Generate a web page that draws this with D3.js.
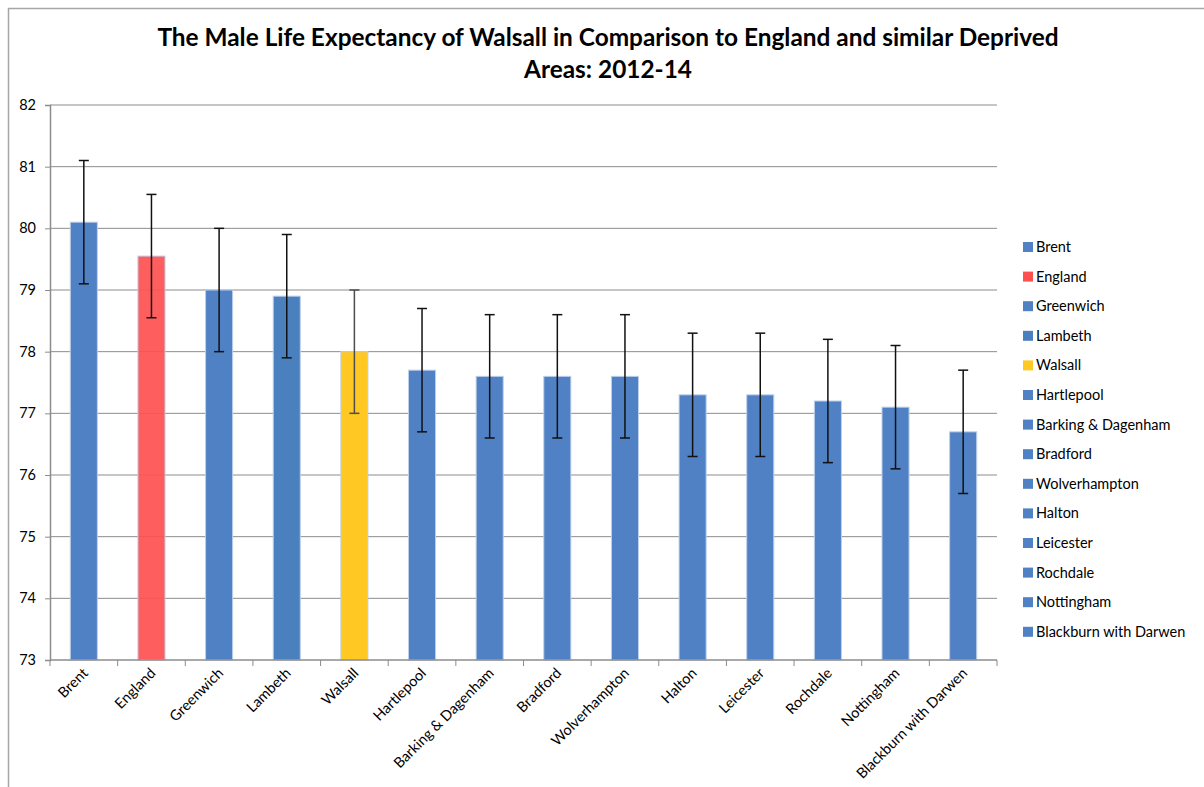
<!DOCTYPE html>
<html>
<head>
<meta charset="utf-8">
<script src="https://cdn.jsdelivr.net/npm/d3@7"></script>
<style>
  body { margin: 0; background: #fff; }
  text { font-family: Lato, "Open Sans", sans-serif; fill: #000; }
</style>
</head>
<body>
<div id="chart"></div>
<script>
var areas = ['Brent', 'England', 'Greenwich', 'Lambeth', 'Walsall', 'Hartlepool',
  'Barking & Dagenham', 'Bradford', 'Wolverhampton', 'Halton', 'Leicester',
  'Rochdale', 'Nottingham', 'Blackburn with Darwen'];
var lifeExpectancy = [80.1, 79.55, 79.0, 78.9, 78.0, 77.7, 77.6, 77.6, 77.6, 77.3, 77.3, 77.2, 77.1, 76.7];
var lowerCI = [79.1, 78.55, 78.0, 77.9, 77.0, 76.7, 76.6, 76.6, 76.6, 76.3, 76.3, 76.2, 76.1, 75.7];
var upperCI = [81.1, 80.55, 80.0, 79.9, 79.0, 78.7, 78.6, 78.6, 78.6, 78.3, 78.3, 78.2, 78.1, 77.7];
var yTicks = [73, 74, 75, 76, 77, 78, 79, 80, 81, 82];

(function () {
  var colorScheme = {
    'England': '#ff5050',
    'Walsall': '#ffc823',
    'Lambeth': '#4a80bd'
  };
  function barColor(name) {
    return colorScheme[name] || '#4f81c4';
  }

  var width = 1204, height = 787;
  var margin = { left: 50, right: 207, top: 105, bottom: 127 };

  var svg = d3.select('#chart').append('svg')
    .attr('width', width)
    .attr('height', height);

  // outer chart frame (runs off the right and bottom of the picture)
  svg.append('rect')
    .attr('x', 8.5).attr('y', 8.5)
    .attr('width', 1300).attr('height', 900)
    .attr('fill', 'none')
    .attr('stroke', '#a6a6a6')
    .attr('stroke-width', 1.5);

  var x = d3.scaleBand()
    .domain(areas)
    .range([margin.left, width - margin.right])
    .paddingInner(0.6)
    .paddingOuter(0.3);

  var y = d3.scaleLinear()
    .domain([73, 82])
    .range([height - margin.bottom, margin.top]);

  var data = areas.map(function (name, i) {
    return { name: name, value: lifeExpectancy[i], lo: lowerCI[i], hi: upperCI[i] };
  });

  // gridlines
  svg.append('g').selectAll('line')
    .data(yTicks.slice(1))
    .enter().append('line')
    .attr('x1', margin.left).attr('x2', width - margin.right)
    .attr('y1', function (d) { return y(d); })
    .attr('y2', function (d) { return y(d); })
    .attr('stroke', '#8c8c8c')
    .attr('stroke-width', 1);

  // bars
  svg.append('g').selectAll('rect')
    .data(data)
    .enter().append('rect')
    .attr('x', function (d) { return x(d.name); })
    .attr('width', x.bandwidth())
    .attr('y', function (d) { return y(d.value); })
    .attr('height', function (d) { return y(73) - y(d.value); })
    .attr('fill', function (d) { return barColor(d.name); })
    .attr('fill-opacity', function (d) { return d.name === 'England' ? 0.92 : 1; })
    .attr('stroke', '#bcd0ea')
    .attr('stroke-width', 1);

  // error bars
  var err = svg.append('g').selectAll('g')
    .data(data)
    .enter().append('g')
    .attr('stroke', function (d) { return d.name === 'Walsall' ? '#4d4d4d' : '#111'; })
    .attr('stroke-width', 1.5);
  err.append('line')
    .attr('x1', function (d) { return x(d.name) + x.bandwidth() / 2; })
    .attr('x2', function (d) { return x(d.name) + x.bandwidth() / 2; })
    .attr('y1', function (d) { return y(d.lo); })
    .attr('y2', function (d) { return y(d.hi); });
  ['lo', 'hi'].forEach(function (k) {
    err.append('line')
      .attr('x1', function (d) { return x(d.name) + x.bandwidth() / 2 - 5; })
      .attr('x2', function (d) { return x(d.name) + x.bandwidth() / 2 + 5; })
      .attr('y1', function (d) { return y(d[k]); })
      .attr('y2', function (d) { return y(d[k]); });
  });

  // y axis
  var yAxis = svg.append('g')
    .attr('transform', 'translate(' + margin.left + ',0)')
    .call(d3.axisLeft(y).tickValues(yTicks).tickSize(5).tickPadding(9).tickFormat(d3.format('d')));
  yAxis.select('.domain').attr('stroke', '#8c8c8c').attr('stroke-width', 1.5);
  yAxis.selectAll('.tick line').attr('stroke', '#8c8c8c');
  yAxis.selectAll('.tick text').style('font-size', '14.5px').style('font-family', 'Lato, "Open Sans", sans-serif');

  // x axis
  var x0 = margin.left;
  var xAxis = svg.append('g');
  xAxis.append('line')
    .attr('x1', x0).attr('x2', width - margin.right)
    .attr('y1', y(73)).attr('y2', y(73))
    .attr('stroke', '#8c8c8c').attr('stroke-width', 1.5);
  xAxis.selectAll('line.tick')
    .data(d3.range(areas.length + 1))
    .enter().append('line')
    .attr('class', 'tick')
    .attr('x1', function (i) { return x0 + i * (width - margin.right - x0) / areas.length; })
    .attr('x2', function (i) { return x0 + i * (width - margin.right - x0) / areas.length; })
    .attr('y1', y(73)).attr('y2', y(73) + 6)
    .attr('stroke', '#8c8c8c');
  xAxis.selectAll('text')
    .data(areas)
    .enter().append('text')
    .attr('transform', function (d) {
      return 'translate(' + (x(d) + x.bandwidth() / 2 + 5) + ',' + (y(73) + 14) + ') rotate(-45)';
    })
    .attr('text-anchor', 'end')
    .style('font-size', '14.5px')
    .text(function (d) { return d; });

  // title
  var title = svg.append('text')
    .attr('text-anchor', 'middle')
    .style('font-size', '24.4px')
    .style('font-weight', 'bold');
  title.append('tspan').attr('x', 608).attr('y', 46)
    .text('The Male Life Expectancy of Walsall in Comparison to England and similar Deprived');
  title.append('tspan').attr('x', 608).attr('y', 78)
    .text('Areas: 2012-14');

  // legend
  var legend = svg.append('g').selectAll('g')
    .data(areas)
    .enter().append('g')
    .attr('transform', function (d, i) { return 'translate(1023,' + (247 + i * 29.6) + ')'; });
  legend.append('rect')
    .attr('x', 0).attr('y', -5)
    .attr('width', 10).attr('height', 10)
    .attr('fill', function (d) { return barColor(d); });
  legend.append('text')
    .attr('x', 13).attr('y', 5)
    .style('font-size', '14.5px')
    .text(function (d) { return d; });
})();
</script>
</body>
</html>
